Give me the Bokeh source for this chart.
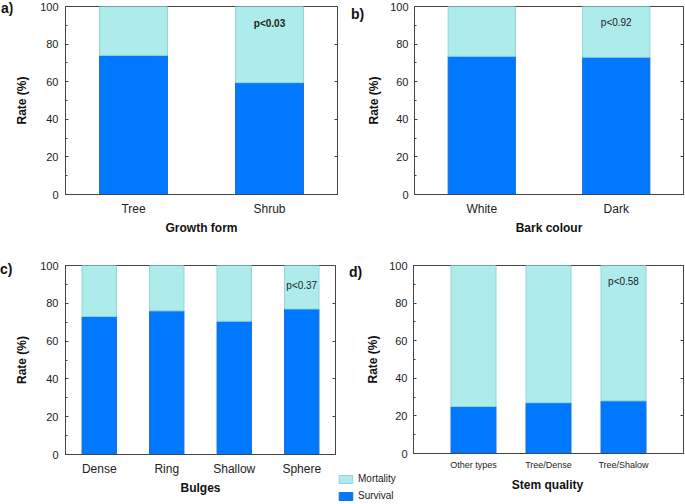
from bokeh.plotting import figure
from bokeh.models import (ColumnDataSource, Range1d, LinearAxis, FixedTicker,
                          Label, Legend, LegendItem, Div)
from bokeh.layouts import column, row
from bokeh.embed import file_html
from bokeh.resources import INLINE
from bokeh.core.properties import value

FONT = "Liberation Sans"
SURV_COLOR = "#0078FF"
SURV_LINE = "#1a6fd8"
MORT_COLOR = "#AEEBEB"
MORT_LINE = "#8fd6dc"
AXIS_COLOR = "#444444"

# ---------------- data ----------------
growth_cats = ["Tree", "Shrub"]
growth_survival = [74, 59.5]
growth_mortality = [26, 40.5]

bark_cats = ["White", "Dark"]
bark_survival = [73.5, 73]
bark_mortality = [26.5, 27]

bulge_cats = ["Dense", "Ring", "Shallow", "Sphere"]
bulge_survival = [73, 76, 70.5, 77]
bulge_mortality = [27, 24, 29.5, 23]

stem_cats = ["Other types", "Tree/Dense", "Tree/Shalow"]
stem_survival = [25, 27, 28]
stem_mortality = [75, 73, 72]

series_names = ["Mortality", "Survival"]
panel_tags = ["a)", "b)", "c)", "d)"]
y_ticks = [0, 20, 40, 60, 80, 100]
y_minor = [10, 30, 50, 70, 90]
p_values = ["p<0.03", "p<0.92", "p<0.37", "p<0.58"]


def panel(cats, surv, mort, width, height, mb_left, mb_right, mb_top, mb_bottom,
          x_start, x_end, bar_w, cat_font, xlabel, ptext, p_y, p_bold,
          y_std=(7, 8), tick_standoff=7, title_standoff=2):
    xs = list(range(1, len(cats) + 1))
    src = ColumnDataSource(dict(x=xs, survival=surv, mortality=mort))
    p = figure(width=width, height=height, x_range=Range1d(x_start, x_end),
               y_range=Range1d(0, 100), output_backend="svg", toolbar_location=None,
               min_border_left=mb_left, min_border_right=mb_right,
               min_border_top=mb_top, min_border_bottom=mb_bottom)
    p.xgrid.visible = False
    p.ygrid.visible = False
    p.outline_line_color = AXIS_COLOR
    p.outline_line_width = 1
    rs = p.vbar_stack(["survival", "mortality"], x="x", width=bar_w, source=src,
                      fill_color=[SURV_COLOR, MORT_COLOR],
                      line_color=[SURV_LINE, MORT_LINE], line_width=1)

    xa = p.xaxis[0]
    xa.ticker = FixedTicker(ticks=xs, minor_ticks=[])
    xa.major_label_overrides = {x: c for x, c in zip(xs, cats)}
    xa.major_tick_in = 0
    xa.major_tick_out = 0
    xa.minor_tick_in = 0
    xa.minor_tick_out = 0
    xa.axis_line_color = AXIS_COLOR
    xa.major_label_text_font = FONT
    xa.major_label_text_font_size = cat_font
    xa.major_label_text_color = "#222222"
    xa.major_label_standoff = tick_standoff
    if xlabel:
        xa.axis_label = xlabel
        xa.axis_label_text_font = FONT
        xa.axis_label_text_font_style = "bold"
        xa.axis_label_text_font_size = "12px"
        xa.axis_label_text_color = "#111111"
        xa.axis_label_standoff = title_standoff

    ya = p.yaxis[0]
    ya.ticker = FixedTicker(ticks=y_ticks, minor_ticks=y_minor)
    ya.major_tick_in = 3
    ya.major_tick_out = 0
    ya.minor_tick_in = 2
    ya.minor_tick_out = 0
    ya.axis_line_color = AXIS_COLOR
    ya.major_tick_line_color = AXIS_COLOR
    ya.minor_tick_line_color = AXIS_COLOR
    ya.major_label_text_font = FONT
    ya.major_label_text_font_size = "11px"
    ya.major_label_text_color = "#222222"
    ya.major_label_standoff = y_std[0]
    ya.axis_label = "Rate (%)"
    ya.axis_label_text_font = FONT
    ya.axis_label_text_font_style = "bold"
    ya.axis_label_text_font_size = "12px"
    ya.axis_label_text_color = "#111111"
    ya.axis_label_standoff = y_std[1]

    # right-hand frame ticks (no labels)
    ra = LinearAxis(ticker=FixedTicker(ticks=[], minor_ticks=[20, 40, 60, 80]),
                    major_label_standoff=0, major_tick_in=0, major_tick_out=0,
                    minor_tick_in=3, minor_tick_out=0,
                    axis_line_color=AXIS_COLOR, minor_tick_line_color=AXIS_COLOR)
    p.add_layout(ra, "right")

    p.text(x=[xs[-1]], y=[p_y], text=[ptext], text_font=value(FONT),
           text_font_size="10px", text_font_style="bold" if p_bold else "normal",
           text_align="center", text_baseline="middle", text_color="#222222")
    return p, rs


def tag(text, width, height, left, top):
    html = ('<div style="position:relative; left:%dpx; top:%dpx; '
            'font-family:\'Liberation Sans\'; font-weight:bold; font-size:14px; '
            'line-height:16px; color:#111111; white-space:nowrap;">%s</div>'
            % (left, top, text))
    return Div(text=html, width=width, height=height, margin=0)


# ---- top row (height 256) ----
H1 = 256
pa, _ = panel(growth_cats, growth_survival, growth_mortality, 327, H1, 49, 2, 6, 62,
              0.5, 2.5, 0.5, "12px", "Growth form", p_values[0], 91, True)
pb, _ = panel(bark_cats, bark_survival, bark_mortality, 321, H1, 45, 2, 6, 62,
              0.5, 2.5, 0.5, "12px", "Bark colour", p_values[1], 91.5, False,
              y_std=(6, 6))
ta = tag(panel_tags[0], 12, H1, 1, 0)
tb = tag(panel_tags[1], 25, H1, 12, 6)

# ---- bottom row (height 248) ----
H2 = 248
HD = 216
pc, _ = panel(bulge_cats, bulge_survival, bulge_mortality, 325, H2, 49, 2, 9, 50,
              0.5, 4.5, 0.51, "12px", "Bulges", p_values[2], 89.5, False)
pd, _ = panel(stem_cats, stem_survival, stem_mortality, 322, HD, 45, 2, 9, 18,
              0.2, 3.8, 0.6, "9px", None, p_values[3], 91.5, False,
              y_std=(6, 6), tick_standoff=6)
tc = tag(panel_tags[2], 12, H2, 0, 5)
td = tag(panel_tags[3], 26, HD, 12, 8)

# strip below panel d: legend + x-axis title of panel d
SW, SH = 348, 32
strip = figure(width=SW, height=SH, x_range=Range1d(0, SW), y_range=Range1d(0, SH),
               output_backend="svg", toolbar_location=None,
               x_axis_type=None, y_axis_type=None, min_border=0)
strip.outline_line_color = None
strip.xgrid.visible = False
strip.ygrid.visible = False
key_src = ColumnDataSource(dict(x=[1, 2, 3], survival=stem_survival,
                                mortality=stem_mortality))
r_mort = strip.vbar(x="x", top="mortality", width=1, source=key_src,
                    fill_color=MORT_COLOR, line_color=MORT_LINE, visible=False)
r_surv = strip.vbar(x="x", top="survival", width=1, source=key_src,
                    fill_color=SURV_COLOR, line_color=SURV_LINE, visible=False)
legend = Legend(items=[LegendItem(label=series_names[0], renderers=[r_mort]),
                       LegendItem(label=series_names[1], renderers=[r_surv])],
                location=(0, 3), orientation="vertical",
                glyph_width=17, glyph_height=10, label_height=10, label_width=10,
                label_standoff=4, spacing=6, padding=0, margin=0,
                label_text_font=FONT, label_text_font_size="10px",
                label_text_color="#222222", border_line_color=None,
                background_fill_alpha=0, inactive_fill_alpha=0)
strip.add_layout(legend)
strip.add_layout(Label(x=210, y=20, x_units="screen", y_units="screen",
                       text="Stem quality", text_font=FONT, text_font_style="bold",
                       text_font_size="12px", text_align="center",
                       text_baseline="middle", text_color="#111111"))

layout = column(row(ta, pa, tb, pb),
                row(tc, pc, column(row(td, pd), strip)))
open("out.html", "w").write(file_html(layout, INLINE))
